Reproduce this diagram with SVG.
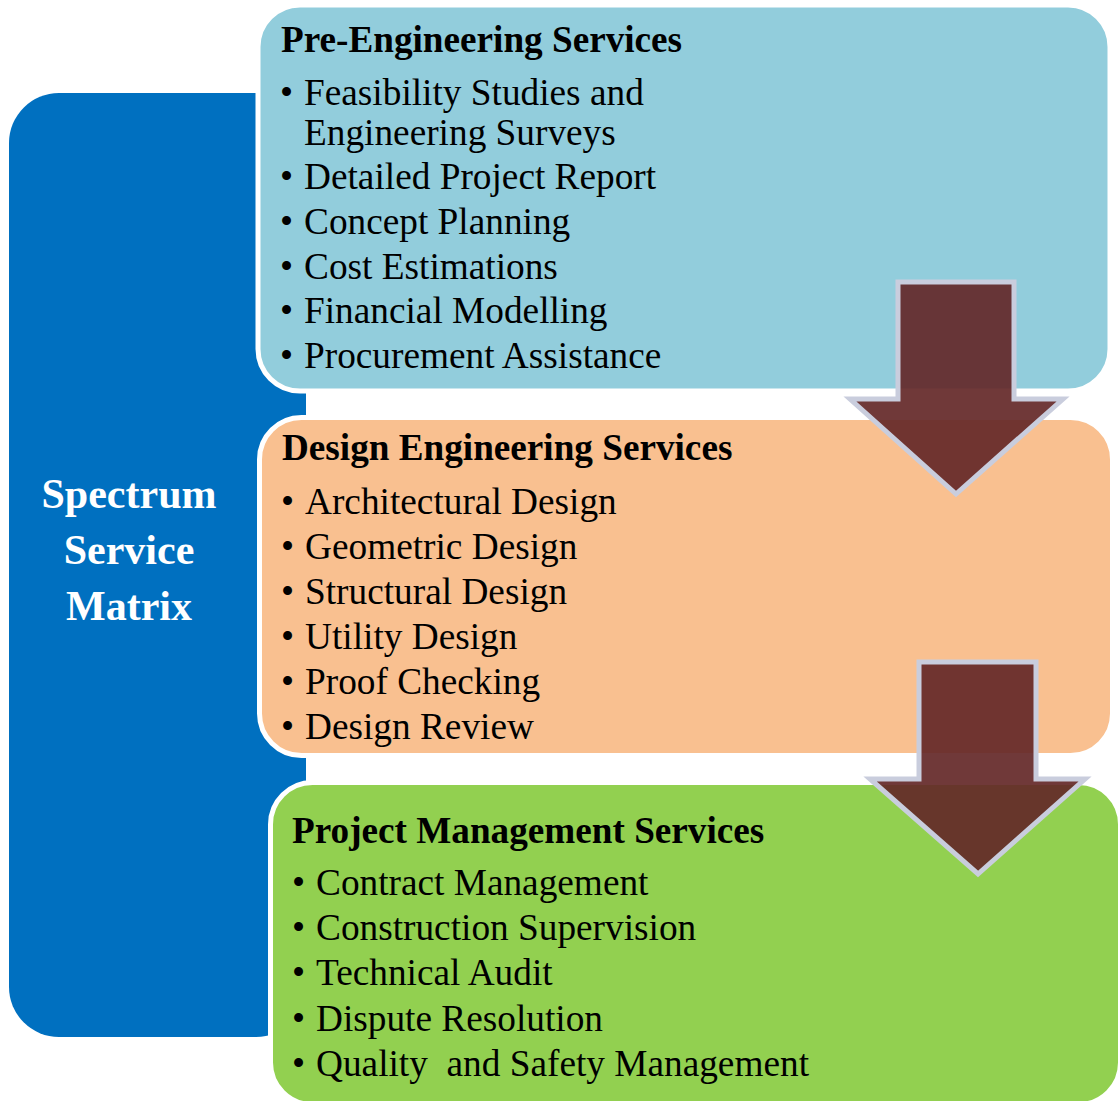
<svg xmlns="http://www.w3.org/2000/svg" width="1118" height="1101" viewBox="0 0 1118 1101">
  <style>
    .box { stroke: #ffffff; stroke-width: 5; }
    .title { font-family: "Liberation Serif", "Times New Roman", serif; font-weight: bold; font-size: 37.2px; fill: #000000; }
    .item { font-family: "Liberation Serif", "Times New Roman", serif; font-size: 37.3px; fill: #000000; }
    .side { font-family: "Liberation Serif", "Times New Roman", serif; font-weight: bold; font-size: 42px; fill: #ffffff; text-anchor: middle; }
    .flow { fill: rgb(100,40,40); fill-opacity: 0.92; stroke: #c9cddd; stroke-width: 5; stroke-linejoin: miter; }
  </style>
  <rect width="1118" height="1101" fill="#ffffff"/>

  <!-- Side band -->
  <g id="matrix">
    <rect x="9" y="93" width="297" height="944" rx="50" ry="50" fill="#0070c0"/>
    <text class="side" x="129" y="508">Spectrum</text>
    <text class="side" x="129" y="564">Service</text>
    <text class="side" x="129" y="620">Matrix</text>
  </g>

  <!-- Pre-Engineering -->
  <g id="pre-engineering">
    <rect class="box" x="258" y="5" width="852" height="386" rx="42" ry="42" fill="#92cddc"/>
    <text class="title" x="281" y="52">Pre-Engineering Services</text>
    <text class="item" x="280" y="105">•</text>
    <text class="item" x="304" y="105">Feasibility Studies and</text>
    <text class="item" x="304" y="145">Engineering Surveys</text>
    <text class="item" x="280" y="189">•</text>
    <text class="item" x="304" y="189">Detailed Project Report</text>
    <text class="item" x="280" y="234">•</text>
    <text class="item" x="304" y="234">Concept Planning</text>
    <text class="item" x="280" y="279">•</text>
    <text class="item" x="304" y="279">Cost Estimations</text>
    <text class="item" x="280" y="323">•</text>
    <text class="item" x="304" y="323">Financial Modelling</text>
    <text class="item" x="280" y="368">•</text>
    <text class="item" x="304" y="368">Procurement Assistance</text>
  </g>

  <!-- Design Engineering -->
  <g id="design-engineering">
    <rect class="box" x="259.5" y="417.5" width="853" height="338" rx="42" ry="42" fill="#f9c090"/>
    <text class="title" x="282" y="460">Design Engineering Services</text>
    <text class="item" x="281" y="514">•</text>
    <text class="item" x="305" y="514">Architectural Design</text>
    <text class="item" x="281" y="559">•</text>
    <text class="item" x="305" y="559">Geometric Design</text>
    <text class="item" x="281" y="604">•</text>
    <text class="item" x="305" y="604">Structural Design</text>
    <text class="item" x="281" y="649">•</text>
    <text class="item" x="305" y="649">Utility Design</text>
    <text class="item" x="281" y="694">•</text>
    <text class="item" x="305" y="694">Proof Checking</text>
    <text class="item" x="281" y="739">•</text>
    <text class="item" x="305" y="739">Design Review</text>
  </g>

  <!-- Project Management -->
  <g id="project-management">
    <rect class="box" x="270.5" y="782.5" width="850" height="322" rx="42" ry="42" fill="#92d050"/>
    <text class="title" x="292" y="843">Project Management Services</text>
    <text class="item" x="292" y="895">•</text>
    <text class="item" x="316" y="895">Contract Management</text>
    <text class="item" x="292" y="940">•</text>
    <text class="item" x="316" y="940">Construction Supervision</text>
    <text class="item" x="292" y="985">•</text>
    <text class="item" x="316" y="985">Technical Audit</text>
    <text class="item" x="292" y="1031">•</text>
    <text class="item" x="316" y="1031">Dispute Resolution</text>
    <text class="item" x="292" y="1076">•</text>
    <text class="item" x="316" y="1076" xml:space="preserve">Quality  and Safety Management</text>
  </g>

  <!-- Block arrows between stages -->
  <g id="connectors">
    <polygon class="flow" points="898,282 1014,282 1014,399 1063,399 956,494 850,399 898,399"/>
    <polygon class="flow" points="919,662 1036,662 1036,779 1085,779 978,874 870,779 919,779"/>
  </g>
</svg>
